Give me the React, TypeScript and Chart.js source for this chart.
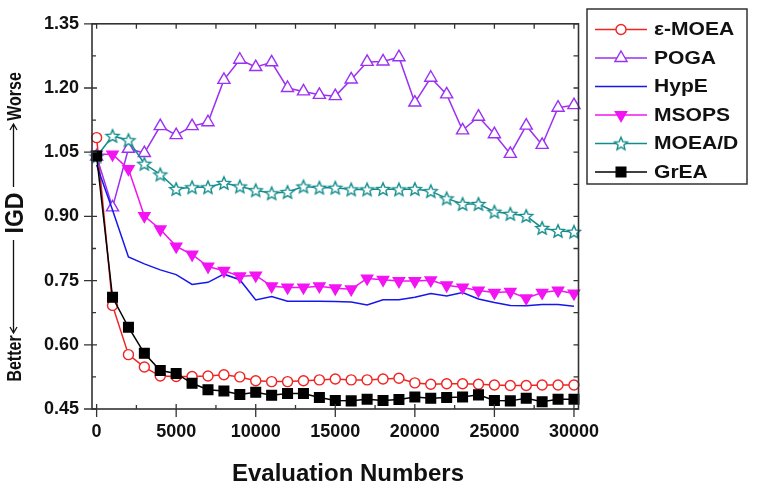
import { useEffect, useRef } from "react";
import { Chart, registerables } from "chart.js";
import { drawPoint } from "chart.js/helpers";

Chart.register(...registerables);

const FONT = 'Arial, "Liberation Sans", Helvetica, sans-serif';

// Number of function evaluations at which IGD was recorded
const evaluations = [
  0, 1000, 2000, 3000, 4000, 5000, 6000, 7000, 8000, 9000, 10000,
  11000, 12000, 13000, 14000, 15000, 16000, 17000, 18000, 19000, 20000,
  21000, 22000, 23000, 24000, 25000, 26000, 27000, 28000, 29000, 30000,
];

const eMOEA = [
  1.084, 0.692, 0.577, 0.548, 0.527, 0.526, 0.526, 0.527, 0.53, 0.525, 0.516,
  0.514, 0.514, 0.516, 0.518, 0.52, 0.518, 0.518, 0.52, 0.522, 0.511,
  0.508, 0.509, 0.509, 0.508, 0.506, 0.505, 0.505, 0.506, 0.506, 0.506,
];
const POGA = [
  1.04, 0.921, 1.058, 1.048, 1.111, 1.09, 1.111, 1.12, 1.219, 1.266, 1.249,
  1.26, 1.2, 1.192, 1.184, 1.181, 1.22, 1.261, 1.262, 1.272, 1.166,
  1.224, 1.185, 1.101, 1.133, 1.092, 1.046, 1.112, 1.067, 1.154, 1.16,
];
const HypE = [
  1.02, 0.915, 0.805, 0.789, 0.775, 0.764, 0.741, 0.746, 0.765, 0.752, 0.705,
  0.713, 0.702, 0.702, 0.702, 0.701, 0.7, 0.693, 0.705, 0.705, 0.711,
  0.72, 0.714, 0.722, 0.707, 0.699, 0.692, 0.691, 0.694, 0.694, 0.69,
];
const MSOPS = [
  1.045, 1.045, 1.011, 0.901, 0.87, 0.83, 0.811, 0.783, 0.773, 0.76, 0.762,
  0.737, 0.734, 0.734, 0.737, 0.732, 0.73, 0.755, 0.752, 0.749, 0.749,
  0.751, 0.739, 0.734, 0.727, 0.722, 0.724, 0.709, 0.722, 0.727, 0.72,
];
const MOEAD = [
  1.04, 1.088, 1.078, 1.023, 0.998, 0.964, 0.968, 0.968, 0.978, 0.97, 0.961,
  0.954, 0.957, 0.97, 0.967, 0.967, 0.963, 0.963, 0.964, 0.963, 0.964,
  0.959, 0.942, 0.929, 0.929, 0.911, 0.906, 0.901, 0.873, 0.866, 0.864,
];
const GrEA = [
  1.041, 0.711, 0.641, 0.58, 0.54, 0.533, 0.51, 0.495, 0.492, 0.484, 0.489,
  0.482, 0.486, 0.486, 0.477, 0.47, 0.469, 0.473, 0.47, 0.472, 0.478,
  0.475, 0.477, 0.478, 0.483, 0.47, 0.469, 0.475, 0.467, 0.473, 0.473,
];

const xTickValues = [0, 5000, 10000, 15000, 20000, 25000, 30000];
const yTickValues = [0.45, 0.6, 0.75, 0.9, 1.05, 1.2, 1.35];

const seriesNames = ["ε-MOEA", "POGA", "HypE", "MSOPS", "MOEA/D", "GrEA"];
const seriesValues = [eMOEA, POGA, HypE, MSOPS, MOEAD, GrEA];
const seriesColors = ["#f02424", "#9b30f2", "#1616ee", "#f214f2", "#138c8c", "#000000"];

function makeStar(color: string, r: number): HTMLCanvasElement {
  const size = Math.ceil(r * 2 + 4);
  const c = document.createElement("canvas");
  c.width = size;
  c.height = size;
  const ctx = c.getContext("2d")!;
  ctx.beginPath();
  for (let i = 0; i < 10; i++) {
    const rad = i % 2 === 0 ? r : r * 0.45;
    const a = -Math.PI / 2 + (i * Math.PI) / 5;
    const px = size / 2 + rad * Math.cos(a);
    const py = size / 2 + rad * Math.sin(a) + 0.6;
    if (i === 0) ctx.moveTo(px, py);
    else ctx.lineTo(px, py);
  }
  ctx.closePath();
  ctx.fillStyle = "#ffffff";
  ctx.fill();
  ctx.lineWidth = 1.4;
  ctx.strokeStyle = color;
  ctx.stroke();
  return c;
}

type Marker = {
  pointStyle: any;
  radius: number;
  rotation: number;
  fill: string;
};

export default function App() {
  const canvasRef = useRef<HTMLCanvasElement | null>(null);

  useEffect(() => {
    const canvas = canvasRef.current;
    if (!canvas) return;

    const star = makeStar(seriesColors[4], 6.8);
    const markers: Marker[] = [
      { pointStyle: "circle", radius: 5, rotation: 0, fill: "#ffffff" },
      { pointStyle: "triangle", radius: 7, rotation: 0, fill: "#ffffff" },
      { pointStyle: false, radius: 0, rotation: 0, fill: "#ffffff" },
      { pointStyle: "triangle", radius: 6.5, rotation: 180, fill: seriesColors[3] },
      { pointStyle: star, radius: 7, rotation: 0, fill: "#ffffff" },
      { pointStyle: "rect", radius: 6.8, rotation: 0, fill: "#000000" },
    ];

    const datasets = seriesNames.map((name, i) => ({
      label: name,
      data: evaluations.map((x, k) => ({ x, y: seriesValues[i][k] })),
      borderColor: seriesColors[i],
      backgroundColor: markers[i].fill,
      borderWidth: 1.5,
      tension: 0,
      pointStyle: markers[i].pointStyle,
      pointRadius: markers[i].radius,
      pointRotation: markers[i].rotation,
      pointBorderColor: seriesColors[i],
      pointBackgroundColor: markers[i].fill,
      pointBorderWidth: 1.4,
      clip: false as const,
      order: seriesNames.length - i,
    }));

    const frame = {
      id: "frame",
      afterDraw(chart: any) {
        const { ctx, chartArea } = chart;
        const { left, right, top, bottom } = chartArea;
        const xs = chart.scales.x;
        const ys = chart.scales.y;
        ctx.save();
        ctx.strokeStyle = "#333333";
        ctx.lineWidth = 1.6;
        ctx.strokeRect(left, top, right - left, bottom - top);
        ctx.lineWidth = 1.3;
        ctx.beginPath();
        xTickValues.forEach((v, i) => {
          const px = xs.getPixelForValue(v);
          ctx.moveTo(px, bottom - 5);
          ctx.lineTo(px, bottom + 8);
          ctx.moveTo(px, top);
          ctx.lineTo(px, top + 5);
          if (i < xTickValues.length - 1) {
            const m = xs.getPixelForValue((v + xTickValues[i + 1]) / 2);
            ctx.moveTo(m, bottom - 4);
            ctx.lineTo(m, bottom);
            ctx.moveTo(m, top);
            ctx.lineTo(m, top + 5);
          }
        });
        yTickValues.forEach((v, i) => {
          const py = ys.getPixelForValue(v);
          ctx.moveTo(left - 8, py);
          ctx.lineTo(left + 5, py);
          ctx.moveTo(right - 5, py);
          ctx.lineTo(right, py);
          if (i < yTickValues.length - 1) {
            const m = ys.getPixelForValue((v + yTickValues[i + 1]) / 2);
            ctx.moveTo(left, m);
            ctx.lineTo(left + 4, m);
            ctx.moveTo(right - 5, m);
            ctx.lineTo(right, m);
          }
        });
        ctx.stroke();
        ctx.restore();
      },
    };

    const legendBox = {
      id: "legendBox",
      afterDraw(chart: any) {
        const { ctx } = chart;
        const bx = 587, by = 9, bw = 160, bh = 175;
        ctx.save();
        ctx.fillStyle = "#ffffff";
        ctx.fillRect(bx, by, bw, bh);
        ctx.strokeStyle = "#333333";
        ctx.lineWidth = 1.5;
        ctx.strokeRect(bx, by, bw, bh);
        seriesNames.forEach((name, i) => {
          const y = 29.5 + i * 28.5;
          ctx.strokeStyle = seriesColors[i];
          ctx.lineWidth = 1.5;
          ctx.beginPath();
          ctx.moveTo(595, y);
          ctx.lineTo(647, y);
          ctx.stroke();
          const mk = markers[i];
          if (mk.pointStyle) {
            ctx.fillStyle = mk.fill;
            ctx.strokeStyle = seriesColors[i];
            ctx.lineWidth = 1.4;
            drawPoint(
              ctx,
              { pointStyle: mk.pointStyle, radius: mk.radius, rotation: mk.rotation, borderWidth: 1.4 } as any,
              621,
              y
            );
          }
          ctx.save();
          ctx.translate(654, y + 1);
          ctx.scale(1.17, 1);
          ctx.fillStyle = "#111111";
          ctx.font = `bold 18px ${FONT}`;
          ctx.textAlign = "left";
          ctx.textBaseline = "middle";
          ctx.fillText(name, 0, 0);
          ctx.restore();
        });
        ctx.restore();
      },
    };

    const axisTitles = {
      id: "axisTitles",
      afterDraw(chart: any) {
        const { ctx } = chart;
        ctx.save();
        ctx.fillStyle = "#111111";
        ctx.strokeStyle = "#111111";
        ctx.textAlign = "center";
        ctx.textBaseline = "middle";
        ctx.font = `bold 24px ${FONT}`;
        ctx.fillText("Evaluation Numbers", 348, 474);

        const ax = 14.5;
        const vtext = (t: string, cy: number, size: number, sy: number) => {
          ctx.save();
          ctx.translate(ax, cy);
          ctx.rotate(-Math.PI / 2);
          ctx.scale(1, sy);
          ctx.font = `bold ${size}px ${FONT}`;
          ctx.fillText(t, 0, 1);
          ctx.restore();
        };
        vtext("Worse", 96.5, 16, 1.25);
        vtext("IGD", 213, 23, 1.1);
        vtext("Better", 358.5, 16, 1.25);

        ctx.lineWidth = 1.3;
        ctx.beginPath();
        // arrow towards "Worse"
        ctx.moveTo(ax - 1, 187);
        ctx.lineTo(ax - 1, 124);
        ctx.moveTo(ax - 4.5, 130);
        ctx.lineTo(ax - 1, 124);
        ctx.lineTo(ax + 2.5, 130);
        // arrow towards "Better"
        ctx.moveTo(ax - 1, 240);
        ctx.lineTo(ax - 1, 333);
        ctx.moveTo(ax - 4.5, 327);
        ctx.lineTo(ax - 1, 333);
        ctx.lineTo(ax + 2.5, 327);
        ctx.stroke();
        ctx.restore();
      },
    };

    const chart = new Chart(canvas, {
      type: "line",
      data: { datasets: datasets as any },
      options: {
        responsive: false,
        animation: false,
        devicePixelRatio: 1,
        layout: { padding: { left: 0, top: 13, right: 184.5, bottom: 0 } },
        plugins: {
          legend: { display: false },
          tooltip: { enabled: false },
          title: { display: false },
        },
        scales: {
          x: {
            type: "linear",
            min: -290,
            max: 30285,
            afterFit: (s: any) => {
              s.height = 85;
            },
            afterBuildTicks: (s: any) => {
              s.ticks = xTickValues.map((v) => ({ value: v }));
            },
            grid: { display: false, drawTicks: false },
            border: { display: false },
            ticks: {
              autoSkip: false,
              maxRotation: 0,
              padding: 12,
              color: "#111111",
              font: { family: FONT, size: 18, weight: "bold" },
              callback: (v: any) => String(v),
            },
          },
          y: {
            type: "linear",
            min: 0.45,
            max: 1.35,
            afterFit: (s: any) => {
              s.width = 92;
            },
            afterBuildTicks: (s: any) => {
              s.ticks = yTickValues.map((v) => ({ value: v }));
            },
            grid: { display: false, drawTicks: false },
            border: { display: false },
            ticks: {
              autoSkip: false,
              padding: 13,
              color: "#111111",
              font: { family: FONT, size: 18, weight: "bold" },
              callback: (v: any) => Number(v).toFixed(2),
            },
          },
        },
      },
      plugins: [frame, legendBox, axisTitles],
    });

    return () => chart.destroy();
  }, []);

  return (
    <div style={{ position: "fixed", left: 0, top: 0, width: 763, height: 494, background: "#ffffff" }}>
      <canvas ref={canvasRef} width={763} height={494} style={{ display: "block" }} />
    </div>
  );
}
